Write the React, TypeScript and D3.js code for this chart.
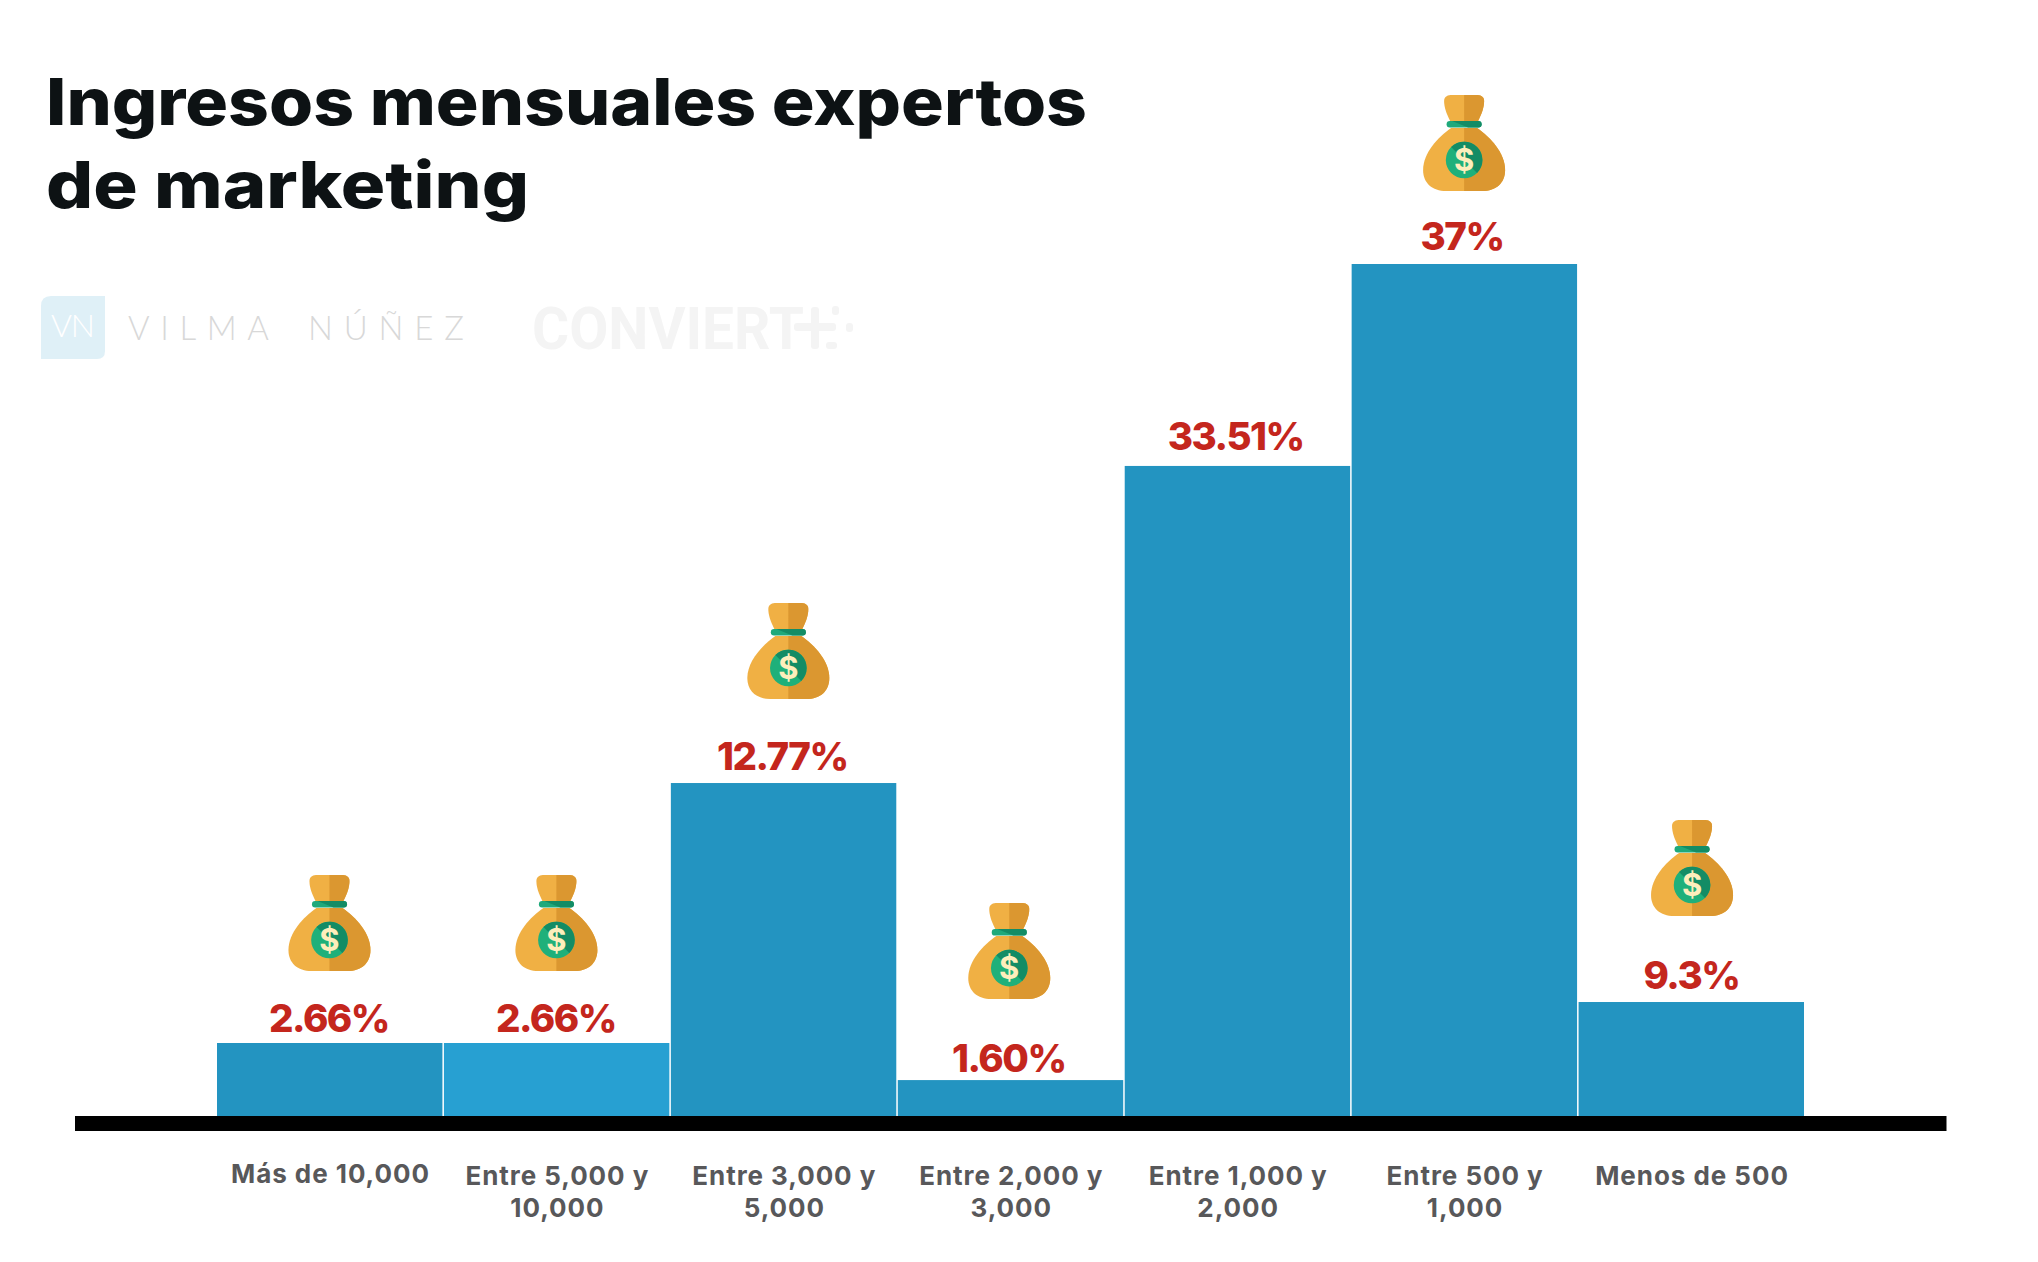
// App.tsx
import * as d3 from "d3";

const categories = [
    ["Más de 10,000"],
    ["Entre 5,000 y", "10,000"],
    ["Entre 3,000 y", "5,000"],
    ["Entre 2,000 y", "3,000"],
    ["Entre 1,000 y", "2,000"],
    ["Entre 500 y", "1,000"],
    ["Menos de 500"],
];
const valueLabels = ["2.66%", "2.66%", "12.77%", "1.60%", "33.51%", "37%", "9.3%"];
// the printed percentages don't match the drawn heights, so these are read off the bars themselves
const barLevels = [3.17, 3.17, 14.46, 1.56, 28.23, 37, 4.95];
const titleLines = ["Ingresos mensuales expertos", "de marketing"];

const width = 2038;
const height = 1262;
const baseline = 1116;

const x = d3
    .scaleBand<number>()
    .domain(d3.range(categories.length))
    .range([217, 1805.5]);

const y = d3.scaleLinear().domain([0, 37]).range([baseline, 264]);

// hand placement of the decorations, relative to each bar
const labelGap = [11, 11, 13, 8, 16, 14, 13];
const labelShift = [0, 0, -0.5, -1, -1, -1.5, 1];
const bagLift = [168, 168, 180, 177, null, 169, 182];
const bagShift = [0, 0, 5, -1, 0, 0, 1];

const barColor = "#2394c1";
const brightBarColor = "#27a0d2";
const redText = "#c4261d";
const greyText = "#58585a";
const titleInk = "#0d1214";
const font = "Inter, 'Noto Sans', sans-serif";

const coinShade = d3.arc()({
    innerRadius: 0,
    outerRadius: 18.3,
    startAngle: -Math.PI / 4,
    endAngle: (3 * Math.PI) / 4,
}) as string;

function MoneyBag({ cx, top }: { cx: number; top: number }) {
    return (
        <g transform={`translate(${cx},${top})`}>
            <path
                d="M-14,26 C-18,18 -20,12 -20,6 C-20,1 -16,0 -12,0 L12,0 C16,0 20,1 20,6 C20,12 18,18 14,26 Z"
                fill="#f0b044"
            />
            <path d="M0,0 L12,0 C16,0 20,1 20,6 C20,12 18,18 14,26 L0,26 Z" fill="#db9730" />
            <path
                d="M-13,33 C-26,42 -41,58 -41,75 C-41,88 -32,96 -18,96 L18,96 C32,96 41,88 41,75 C41,58 26,42 13,33 Z"
                fill="#f0b044"
            />
            <path d="M0,33 L13,33 C26,42 41,58 41,75 C41,88 32,96 18,96 L0,96 Z" fill="#db9730" />
            <rect x={-17.5} y={26} width={35} height={6.5} rx={3.2} fill="#1fa97b" />
            <path d="M-12,26 H14.3 A3.2,3.2 0 0 1 14.3,32.5 H4 Z" fill="#138c65" />
            <g transform="translate(0,65)">
                <circle r={18.3} fill="#1fb07a" />
                <path d={coinShade} fill="#138c65" />
                <text
                    y={11}
                    textAnchor="middle"
                    fontFamily={font}
                    fontWeight={700}
                    fontSize={31}
                    fill="#fdeebc"
                >
                    $
                </text>
            </g>
        </g>
    );
}

function Watermarks() {
    return (
        <g>
            <path
                d="M51,296 H105 V351 Q105,359 97,359 H41 V306 Q41,296 51,296 Z"
                fill="#dff0f7"
            />
            <text x={51} y={337} fontFamily="Lato" fontWeight={300} fontSize={32} fill="#ffffff" textLength={44}>
                VN
            </text>
            <text
                x={128}
                y={340}
                fontFamily="Lato"
                fontWeight={300}
                fontSize={33}
                fill="#d8d8d8"
                textLength={141}
                lengthAdjust="spacing"
            >
                VILMA
            </text>
            <text
                x={308}
                y={340}
                fontFamily="Lato"
                fontWeight={300}
                fontSize={33}
                fill="#d8d8d8"
                textLength={156}
                lengthAdjust="spacing"
            >
                NÚÑEZ
            </text>
            <text
                x={532}
                y={349}
                fontFamily="Roboto"
                fontWeight={700}
                fontSize={60}
                fill="#f4f4f4"
                textLength={272}
                lengthAdjust="spacingAndGlyphs"
            >
                CONVIERT
            </text>
            <g fill="#f4f4f4">
                <rect x={811} y={307} width={8} height={42} rx={3} />
                <rect x={794} y={323} width={42} height={8} rx={3} />
                <rect x={832} y={306} width={7} height={9} rx={3} />
                <rect x={846} y={323} width={7} height={9} rx={3} />
                <rect x={826} y={342} width={11} height={7} rx={3} />
            </g>
        </g>
    );
}

export default function App() {
    return (
        <svg
            width={width}
            height={height}
            viewBox={`0 0 ${width} ${height}`}
            style={{ position: "absolute", left: 0, top: 0, background: "#fff" }}
        >
            <g fontFamily={font} fontWeight={800} fontSize={65} fill={titleInk}>
                <text x={46} y={124.5} textLength={1041} lengthAdjust="spacingAndGlyphs">
                    {titleLines[0]}
                </text>
                <text x={46} y={208} textLength={483} lengthAdjust="spacingAndGlyphs">
                    {titleLines[1]}
                </text>
            </g>

            <Watermarks />

            {barLevels.map((v, i) => (
                <rect
                    key={i}
                    x={x(i)}
                    y={y(v)}
                    width={x.bandwidth() - 1.5}
                    height={baseline - y(v)}
                    fill={i === 1 ? brightBarColor : barColor}
                />
            ))}

            <rect x={75} y={baseline} width={1871.5} height={15} fill="#000" />

            {valueLabels.map((label, i) => (
                <text
                    key={i}
                    x={x(i)! + x.bandwidth() / 2 + labelShift[i] - 1.5}
                    y={y(barLevels[i]) - labelGap[i]}
                    textAnchor="middle"
                    fontFamily={font}
                    fontWeight={800}
                    fontSize={38.5}
                    letterSpacing={-1.5}
                    fill={redText}
                >
                    {label}
                </text>
            ))}

            {bagLift.map((lift, i) =>
                lift === null ? null : (
                    <MoneyBag
                        key={i}
                        cx={x(i)! + x.bandwidth() / 2 + bagShift[i] - 1}
                        top={y(barLevels[i]) - lift}
                    />
                )
            )}

            {categories.map((lines, i) => (
                <text
                    key={i}
                    textAnchor="middle"
                    fontFamily={font}
                    fontWeight={700}
                    fontSize={26}
                    letterSpacing={0.95}
                    fill={greyText}
                >
                    {lines.map((line, j) => (
                        <tspan
                            key={j}
                            x={x(i)! + x.bandwidth() / 2}
                            y={(lines.length === 1 && i === 0 ? 1183 : 1185) + j * 32}
                        >
                            {line}
                        </tspan>
                    ))}
                </text>
            ))}
        </svg>
    );
}
